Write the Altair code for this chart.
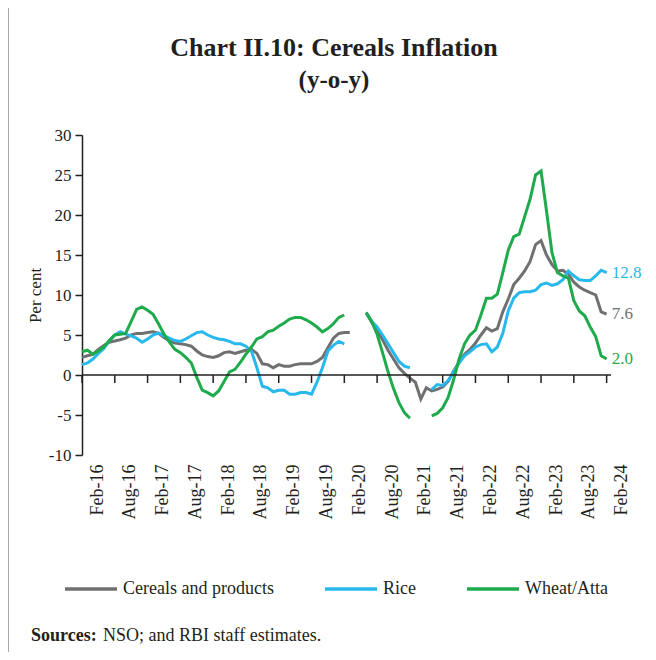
import altair as alt
import pandas as pd

# ---------------- data ----------------
x_labels = ["Feb-16", "Aug-16", "Feb-17", "Aug-17", "Feb-18", "Aug-18", "Feb-19", "Aug-19",
            "Feb-20", "Aug-20", "Feb-21", "Aug-21", "Feb-22", "Aug-22", "Feb-23", "Aug-23", "Feb-24"]
y_ticks = [-10, -5, 0, 5, 10, 15, 20, 25, 30]
series_names = ["Cereals and products", "Rice", "Wheat/Atta"]
series_colors = ["#6f7072", "#27b8ec", "#1fab4b"]
title_lines = ["Chart II.10: Cereals Inflation", "(y-o-y)"]
source_bold = "Sources:"
source_text = "NSO; and RBI staff estimates."

# monthly, Feb-16 ... Feb-24 (None = no data)
cereals = [2.2, 2.4, 2.6, 3.2, 3.7, 4.1, 4.25, 4.4, 4.6, 5.0, 5.2, 5.2, 5.3, 5.4, 5.2, 4.7,
           4.3, 4.0, 3.9, 3.8, 3.6, 3.0, 2.5, 2.3, 2.2, 2.4, 2.8, 2.9, 2.7, 2.9, 3.1, 3.2,
           2.7, 1.4, 1.3, 0.9, 1.3, 1.1, 1.1, 1.3, 1.4, 1.4, 1.4, 1.7, 2.2, 3.4, 4.6, 5.2,
           5.3, 5.3, None, None, 7.8, 6.6, 5.6, 4.4, 3.1, 2.0, 0.9, 0.2, -0.4, -0.9, -3.0, -1.6,
           -2.0, -1.8, -1.5, -0.8, 0.5, 1.6, 2.6, 3.2, 4.0, 5.0, 5.9, 5.5, 5.8, 7.9, 9.5, 11.3,
           12.1, 13.0, 14.2, 16.3, 16.8, 15.0, 13.8, 13.0, 13.1, 12.6, 11.6, 11.0, 10.6, 10.3, 10.0, 7.9,
           7.6]
rice = [1.3, 1.5, 2.0, 2.7, 3.3, 4.3, 5.0, 5.4, 5.1, 4.9, 4.6, 4.1, 4.5, 5.0, 5.25, 4.9,
        4.6, 4.3, 4.2, 4.5, 4.9, 5.3, 5.4, 5.0, 4.7, 4.5, 4.4, 4.2, 3.9, 3.9, 3.6, 3.0,
        0.9, -1.4, -1.6, -2.1, -1.9, -1.9, -2.4, -2.4, -2.2, -2.2, -2.4, -0.9, 0.9, 3.0, 3.7, 4.2,
        3.9, None, None, None, 7.8, 6.7, 6.0, 5.0, 3.9, 2.8, 1.7, 1.1, 0.9, None, None, None,
        -1.8, -1.2, -1.3, -0.7, 0.4, 1.5, 2.4, 2.9, 3.5, 3.8, 3.9, 2.9, 3.5, 5.2, 8.0, 9.6,
        10.3, 10.4, 10.4, 10.6, 11.3, 11.5, 11.2, 11.4, 11.9, 13.0, 12.4, 11.9, 11.8, 11.8, 12.4, 13.1,
        12.8]
wheat = [2.9, 3.1, 2.6, 3.0, 3.5, 4.3, 5.0, 5.1, 5.2, 6.7, 8.2, 8.5, 8.1, 7.6, 6.4, 5.1,
         4.1, 3.2, 2.8, 2.2, 1.5, -0.3, -1.9, -2.2, -2.6, -2.0, -0.8, 0.4, 0.7, 1.6, 2.6, 3.5,
         4.5, 4.8, 5.4, 5.6, 6.1, 6.5, 7.0, 7.2, 7.2, 6.9, 6.5, 6.0, 5.4, 5.8, 6.4, 7.2,
         7.5, None, None, None, 7.8, 6.7, 5.1, 2.8, 0.4, -1.7, -3.45, -4.7, -5.4, None, None, None,
         -5.1, -4.8, -4.1, -2.8, -0.6, 2.0, 3.9, 5.0, 5.6, 7.5, 9.6, 9.6, 10.1, 12.8, 15.6, 17.3,
         17.6, 19.8, 22.0, 25.0, 25.5, 20.5, 15.3, 12.8, 12.4, 12.1, 9.3, 8.0, 7.4, 6.0, 4.8, 2.4,
         2.0]

# ---------------- tables ----------------
rows = []
for name, vals in zip(series_names, [cereals, rice, wheat]):
    seg = 0
    prev_none = False
    for i, v in enumerate(vals):
        if v is None:
            prev_none = True
            continue
        if prev_none:
            seg += 1
            prev_none = False
        rows.append({"i": i, "v": v, "series": name, "seg": f"{name}-{seg}"})
df = pd.DataFrame(rows)

last = pd.DataFrame({
    "i": [len(cereals) - 1] * 3,
    "v": [cereals[-1], rice[-1], wheat[-1]],
    "series": series_names,
})
tick_vals = [6 * k for k in range(len(x_labels))]
tick_df = pd.DataFrame({"i": tick_vals, "v": [0] * len(tick_vals), "v2": [-1] * len(tick_vals)})
zero = pd.DataFrame({"v": [0]})

FONT = "Liberation Serif"
INK = "#231f20"
label_arr = "[" + ",".join(f"'{s}'" for s in x_labels) + "]"

xscale = alt.Scale(domain=[0, 96.8], nice=False, zero=False)
yscale = alt.Scale(domain=[-10, 30], nice=False)
cscale = alt.Scale(domain=series_names, range=series_colors)

x_axis = alt.Axis(values=tick_vals,
                  labelExpr=f"{label_arr}[round(datum.value/6)]",
                  labelAngle=-90, labelAlign="right", labelBaseline="middle",
                  labelOffset=15, labelPadding=9, ticks=False, domain=False,
                  labelOverlap=False, labelFlush=False,
                  grid=False, labelFont=FONT, labelFontSize=18, labelColor=INK)
y_axis = alt.Axis(values=y_ticks, title="Per cent", grid=False,
                  labelExpr="datum.value < 0 ? '-' + abs(datum.value) : '' + datum.value",
                  labelOverlap=False, labelFlush=False,
                  labelFont=FONT, labelFontSize=17, labelColor=INK, labelPadding=4,
                  tickSize=7, tickColor=INK, domainColor=INK, tickWidth=1.5, domainWidth=1.5,
                  titleFont=FONT, titleFontSize=17, titleFontWeight="normal",
                  titleColor=INK, titlePadding=4)


def X():
    return alt.X("i:Q", scale=xscale, title=None, axis=x_axis)


def Y():
    return alt.Y("v:Q", scale=yscale, title="Per cent", axis=y_axis)


lines = alt.Chart(df).mark_line(strokeWidth=3).encode(
    x=X(), y=Y(),
    color=alt.Color("series:N", scale=cscale, sort=series_names,
                    legend=alt.Legend(orient="none", legendX=-19, legendY=426,
                                      direction="horizontal", title=None,
                                      symbolType="stroke", symbolSize=2704,
                                      symbolStrokeWidth=3.5, labelFont=FONT,
                                      labelFontSize=18, labelColor=INK,
                                      labelOffset=4, columnPadding=44)),
    detail="seg:N",
)

zero_rule = alt.Chart(zero).mark_rule(color=INK, strokeWidth=1.5).encode(y=Y())
ticks = alt.Chart(tick_df).mark_rule(color=INK, strokeWidth=1.5).encode(
    x=X(), y=Y(), y2="v2:Q")

end_labels = alt.Chart(last).mark_text(align="left", baseline="middle", dx=5,
                                       font=FONT, fontSize=17).encode(
    x=X(), y=Y(),
    text=alt.Text("v:Q", format=".1f"),
    color=alt.Color("series:N", scale=cscale, legend=None),
)

title1 = alt.Chart(pd.DataFrame({"t": [title_lines[0]]})).mark_text(
    align="center", baseline="middle", font=FONT, fontSize=26, fontWeight="bold", color=INK
).encode(x=alt.value(252), y=alt.value(-87), text="t:N")
title2 = alt.Chart(pd.DataFrame({"t": [title_lines[1]]})).mark_text(
    align="center", baseline="middle", font=FONT, fontSize=25, fontWeight="bold", color=INK
).encode(x=alt.value(252), y=alt.value(-55), text="t:N")

src_bold = alt.Chart(pd.DataFrame({"t": [source_bold]})).mark_text(
    align="left", baseline="middle", font=FONT, fontSize=18, fontWeight="bold", color=INK
).encode(x=alt.value(-51), y=alt.value(501), text="t:N")
src_rest = alt.Chart(pd.DataFrame({"t": [source_text]})).mark_text(
    align="left", baseline="middle", font=FONT, fontSize=18, color=INK
).encode(x=alt.value(21), y=alt.value(501), text="t:N")

border = alt.Chart(pd.DataFrame({"a": [0]})).mark_rule(color="#555555", strokeWidth=1).encode(
    x=alt.value(-74), y=alt.value(-127), y2=alt.value(520))

chart = alt.layer(lines, zero_rule, ticks, end_labels, title1, title2,
                  src_bold, src_rest, border).properties(
    width=529, height=320,
    padding={"left": 74, "top": 127, "right": 37, "bottom": 197},
    autosize=alt.AutoSizeParams(type="none"),
).configure(background="white").configure_view(stroke=None)

chart.save("out.html", embed_options={"renderer": "svg", "actions": False})
